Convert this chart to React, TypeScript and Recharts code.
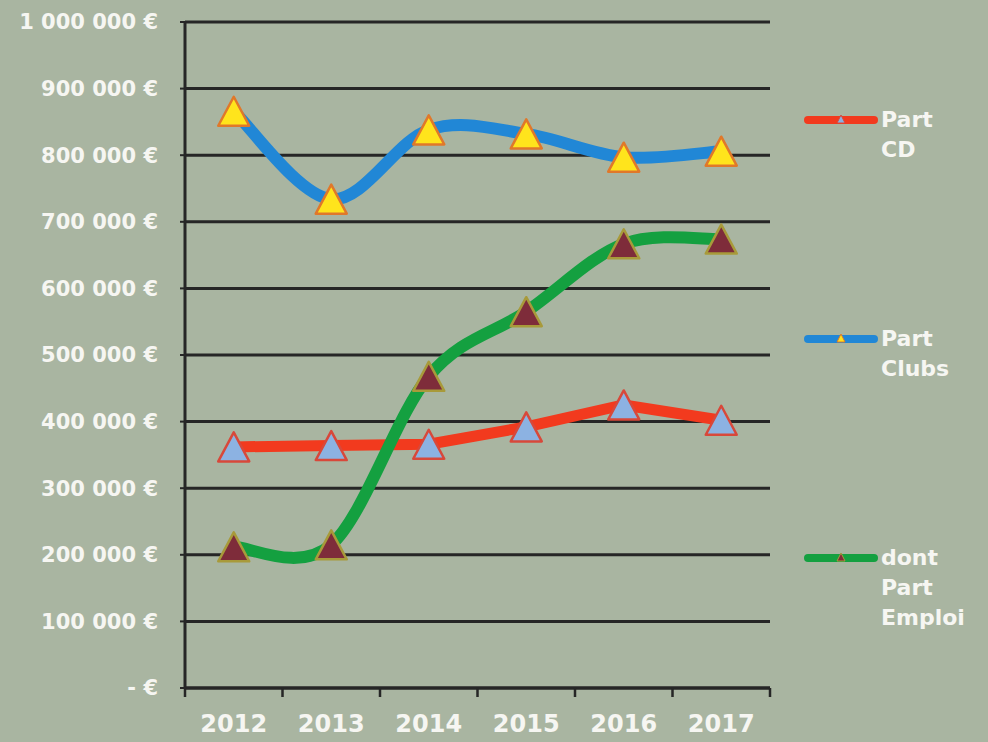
import React from 'react';
import { LineChart, Line, XAxis, YAxis, CartesianGrid, Legend } from 'recharts';

const years = ['2012', '2013', '2014', '2015', '2016', '2017'];
const partCD = [362000, 364000, 366000, 392000, 425000, 402000];
const partClubs = [866000, 734000, 838000, 832000, 797000, 806000];
const partEmploi = [212000, 215000, 468000, 565000, 667000, 674000];
const yTicks = [0, 100000, 200000, 300000, 400000, 500000, 600000, 700000, 800000, 900000, 1000000];
const xIndex = [0, 1, 2, 3, 4, 5];
const xEdges = [-0.5, 0.5, 1.5, 2.5, 3.5, 4.5, 5.5];
const seriesNames = ['Part CD', 'Part Clubs', 'dont Part Emploi'];

const data = years.map((y, i) => ({
  i: xIndex[i],
  year: y,
  cd: partCD[i],
  clubs: partClubs[i],
  emploi: partEmploi[i],
}));

const series = [
  { key: 'cd', name: seriesNames[0], color: '#F23A1E', width: 11, fill: '#8CB2E2', mStroke: '#D8483A', curve: 'linear' as const },
  { key: 'clubs', name: seriesNames[1], color: '#2187D6', width: 12, fill: '#FFE41C', mStroke: '#E0782A', curve: 'excel' as const },
  { key: 'emploi', name: seriesNames[2], color: '#14A040', width: 12, fill: '#7E2C3A', mStroke: '#A89A3A', curve: 'excel' as const },
];

// Excel-like smoothing (Catmull-Rom through the points)
function excelCurve(context: any) {
  let pts: number[][] = [];
  return {
    areaStart() {},
    areaEnd() {},
    lineStart() {
      pts = [];
    },
    point(x: number, y: number) {
      pts.push([+x, +y]);
    },
    lineEnd() {
      const n = pts.length;
      if (!n) return;
      context.moveTo(pts[0][0], pts[0][1]);
      for (let k = 0; k < n - 1; k++) {
        const p0 = pts[Math.max(0, k - 1)];
        const p1 = pts[k];
        const p2 = pts[k + 1];
        const p3 = pts[Math.min(n - 1, k + 2)];
        context.bezierCurveTo(
          p1[0] + (p2[0] - p0[0]) / 6,
          p1[1] + (p2[1] - p0[1]) / 6,
          p2[0] - (p3[0] - p1[0]) / 6,
          p2[1] - (p3[1] - p1[1]) / 6,
          p2[0],
          p2[1]
        );
      }
    },
  };
}

const fmt = (v: number) => (v === 0 ? '- €' : String(v).replace(/\B(?=(\d{3})+(?!\d))/g, ' ') + ' €');

const makeDot = (fill: string, stroke: string) => (props: any) => {
  const { cx, cy, index } = props;
  if (cx == null || cy == null) return <g key={index} />;
  const w = 31;
  const h = 29;
  return (
    <polygon
      key={index}
      points={`${cx},${cy - h / 2} ${cx + w / 2},${cy + h / 2} ${cx - w / 2},${cy + h / 2}`}
      fill={fill}
      stroke={stroke}
      strokeWidth={2.5}
      strokeLinejoin="round"
    />
  );
};

const FONT = '"DejaVu Sans", sans-serif';

const renderLegend = () => (
  <div style={{ position: 'relative', width: 188, height: 600 }}>
    {series.map((s, idx) => (
      <div key={s.key} style={{ position: 'absolute', left: 0, top: idx * 219, display: 'flex', alignItems: 'flex-start' }}>
        <svg width={80} height={30}>
          <line x1={8} y1={14} x2={74} y2={14} stroke={s.color} strokeWidth={8} strokeLinecap="round" />
          <polygon points="41,9 45,17 37,17" fill={s.fill} stroke={s.mStroke} strokeWidth={1} />
        </svg>
        <div
          style={{
            width: 88,
            fontFamily: FONT,
            fontWeight: 'bold',
            fontSize: 22,
            lineHeight: '30px',
            color: '#F6F6F2',
            marginLeft: 1,
            marginTop: -1,
          }}
        >
          {s.name}
        </div>
      </div>
    ))}
  </div>
);

export default function App() {
  return (
    <div style={{ position: 'absolute', left: 0, top: 0, width: 988, height: 742, background: '#A9B5A1', overflow: 'hidden' }}>
      <LineChart width={988} height={742} data={data} margin={{ top: 22, right: 218, bottom: 0, left: 0 }}>
        <CartesianGrid horizontal vertical={false} stroke="#262626" strokeWidth={3} xAxisId="a" yAxisId="left" />
        <XAxis
          xAxisId="a"
          dataKey="i"
          type="number"
          domain={[-0.5, 5.5]}
          ticks={xEdges}
          interval={0}
          allowDataOverflow
          height={10}
          tickSize={9}
          tickFormatter={() => ''}
          axisLine={{ stroke: '#262626', strokeWidth: 3 }}
          tickLine={{ stroke: '#262626', strokeWidth: 2.5 }}
        />
        <XAxis
          xAxisId="b"
          dataKey="i"
          type="number"
          domain={[-0.5, 5.5]}
          ticks={xIndex}
          interval={0}
          allowDataOverflow
          height={44}
          axisLine={false}
          tickLine={false}
          tickMargin={11}
          tickFormatter={(v: number) => years[v]}
          tick={{ fill: '#F6F6F2', fontSize: 24, fontWeight: 'bold', fontFamily: FONT }}
        />
        <YAxis
          yAxisId="left"
          domain={[0, 1000000]}
          ticks={yTicks}
          interval={0}
          width={185}
          tickSize={5}
          tickMargin={22}
          tickFormatter={fmt}
          axisLine={{ stroke: '#262626', strokeWidth: 3 }}
          tickLine={{ stroke: '#262626', strokeWidth: 2 }}
          tick={{ fill: '#F6F6F2', fontSize: 21, fontWeight: 'bold', fontFamily: FONT }}
        />
        <YAxis
          yAxisId="right"
          orientation="right"
          domain={[0, 1000000]}
          width={0}
          tick={false}
          tickLine={false}
          axisLine={{ stroke: '#262626', strokeWidth: 3 }}
        />
        <Legend
          layout="vertical"
          align="center"
          verticalAlign="middle"
          content={renderLegend}
          wrapperStyle={{ left: 800, top: 106, width: 188, height: 600 }}
        />
        {series.map((s) => (
          <Line
            key={s.key}
            xAxisId="a"
            yAxisId="left"
            dataKey={s.key}
            name={s.name}
            type={s.curve === 'excel' ? (excelCurve as any) : 'linear'}
            stroke={s.color}
            strokeWidth={s.width}
            strokeLinecap="round"
            strokeLinejoin="round"
            dot={makeDot(s.fill, s.mStroke)}
            activeDot={false}
            isAnimationActive={false}
          />
        ))}
      </LineChart>
    </div>
  );
}
